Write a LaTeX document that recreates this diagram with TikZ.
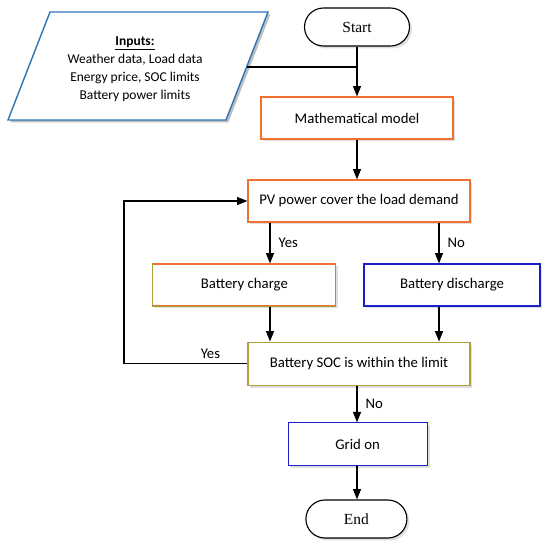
\documentclass[tikz,border=0pt]{standalone}
\usepackage{fontspec}
\setmainfont{Carlito}
\newfontfamily\termfont{Liberation Serif}
\usepackage{tikz}
\usetikzlibrary{calc,shapes,arrows.meta,shadows}

\definecolor{inblue}{RGB}{46,117,182}
\definecolor{boxorange}{RGB}{240,112,48}
\definecolor{boxolive}{RGB}{170,160,60}
\definecolor{boxblue}{RGB}{30,30,200}

\begin{document}
\begin{tikzpicture}[
  scale=1.0,
  transform shape,
  font=\fontsize{10.5}{12.8}\selectfont
]

  \path[use as bounding box] (0mm,0mm) rectangle (137.5mm,-137.5mm);

  \tikzstyle{shade}=[drop shadow={opacity=0.25,shadow xshift=0.6mm,shadow yshift=-0.6mm}]
  \tikzstyle{stepbox}=[draw,rectangle,fill=white,line width=0.8pt,minimum height=10.5mm,shade]
  \tikzstyle{stepboxorange}=[stepbox,draw=boxorange]
  \tikzstyle{stepboxolive}=[stepbox,draw=boxolive]
  \tikzstyle{stepboxblue}=[stepbox,draw=boxblue]
  \tikzstyle{termnode}=[draw,rectangle,rounded corners=4.75mm,fill=white,line width=0.8pt,minimum height=9.5mm,font=\termfont\fontsize{11}{13}\selectfont,shade]

  \tikzstyle{pointer}=[draw,line width=0.9pt,-{Triangle[length=2.6mm,width=2mm]}]
  \tikzstyle{ptrlab}=[inner sep=1mm]

  % input data
  \fill[black,opacity=0.25] (13.1mm,-3.6mm) -- (67.6mm,-3.6mm) -- (57.1mm,-30.6mm) -- (2.6mm,-30.6mm) -- cycle;
  \draw[inblue,line width=1pt,fill=white] (12.5mm,-3mm) -- (67mm,-3mm) -- (56.5mm,-30mm) -- (2mm,-30mm) -- cycle;
  \node[align=center,font=\fontsize{9.6}{12.8}\selectfont] (inputs) at (33.75mm,-17.3mm) {\textbf{\underline{Inputs:}}\\[0.5pt]Weather data, Load data\\Energy price, SOC limits\\Battery power limits};
  \coordinate (inedge) at (61.65mm,-16.75mm);

  % nodes
  \node[termnode,minimum width=26.25mm] (start) at (89.25mm,-6.75mm) {Start};
  \node[stepboxorange,minimum width=48mm] (model) at (89.25mm,-29.5mm) {Mathematical model};
  \node[stepboxorange,minimum width=55.5mm] (pv) at (89.75mm,-50.25mm) {PV power cover the load demand};
  \node[stepboxorange,minimum width=45.75mm] (charge) at (61.1mm,-71.25mm) {Battery charge};
  \node[stepboxblue,minimum width=44mm] (discharge) at (113mm,-71.25mm) {Battery discharge};
  \node[stepboxolive,minimum width=55.5mm,minimum height=10.75mm] (soc) at (89.75mm,-90.9mm) {Battery SOC is within the limit};
  \node[stepboxblue,minimum width=34.75mm,minimum height=10.75mm] (grid) at (89.4mm,-111.1mm) {Grid on};
  \node[termnode,minimum width=25.25mm] (end) at (89.1mm,-129.75mm) {End};

  % olive lower edges of the charge box
  \draw[boxolive,line width=0.8pt] (charge.north west) -- (charge.south west) -- (charge.south east);

  \coordinate (xl) at (67.5mm,0mm);
  \coordinate (xr) at (109.75mm,0mm);
  \coordinate (xm) at (89.25mm,0mm);
  \coordinate (loop) at (31mm,0mm);

  % pointers
  \draw[line width=0.9pt] (inedge) -- (inedge -| start.south);
  \draw[pointer] (start) -- (model);
  \draw[pointer] (model) -- (model |- pv.north);
  \draw[pointer] (xl |- pv.south) -- node[ptrlab,right,xshift=1mm] {Yes} (xl |- charge.north);
  \draw[pointer] (xr |- pv.south) -- node[ptrlab,right,xshift=1mm] {No} (xr |- discharge.north);
  \draw[pointer] (xl |- charge.south) -- (xl |- soc.north);
  \draw[pointer] (xr |- discharge.south) -- (xr |- soc.north);
  \draw[pointer] (soc.west) -- node[ptrlab,above,pos=0.3] {Yes} (loop |- soc.west) |- (pv.west);
  \draw[pointer] (xm |- soc.south) -- node[ptrlab,right,xshift=1mm] {No} (xm |- grid.north);
  \draw[pointer] (xm |- grid.south) -- (xm |- end.north);

\end{tikzpicture}
\end{document}
